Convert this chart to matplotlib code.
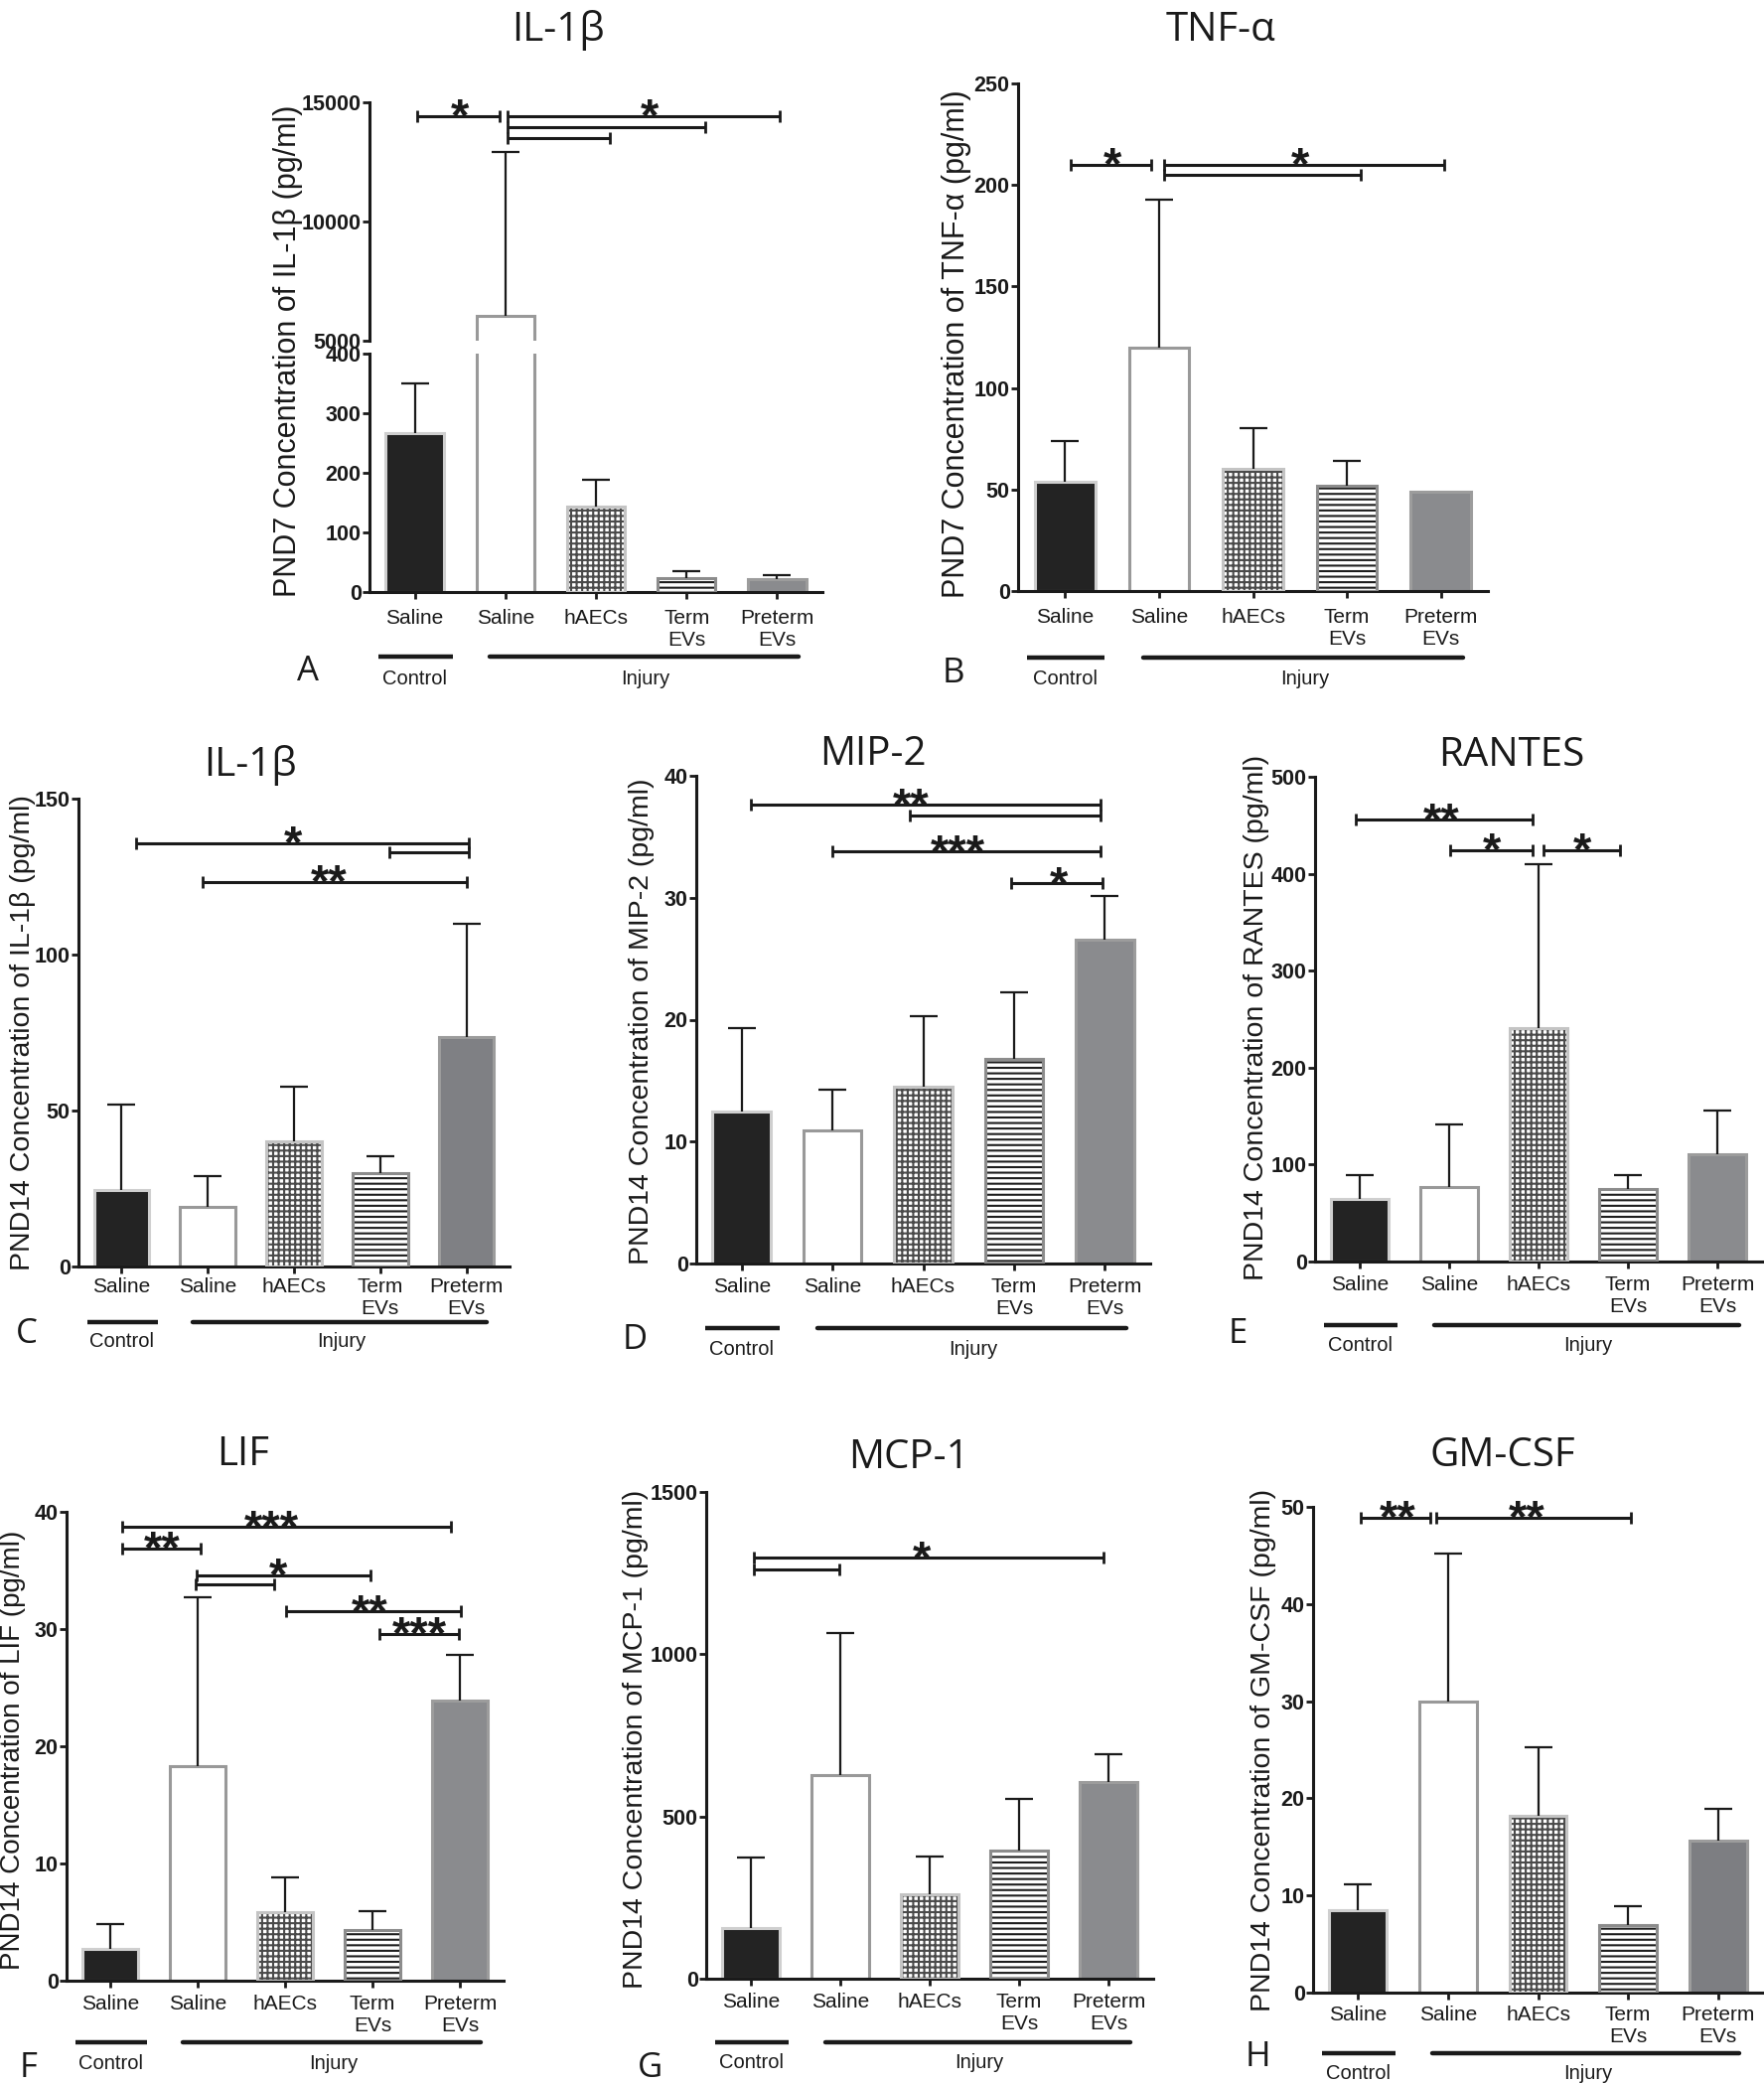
import numpy as np
import matplotlib
matplotlib.use('Agg')
import matplotlib.pyplot as plt
from matplotlib.transforms import ScaledTranslation

W, H = 1776, 2098

groups = ['Saline', 'Saline', 'hAECs', 'Term\nEVs', 'Preterm\nEVs']

# PND7 values (mean, SEM)
il1b_d7_mean = [267, 6035, 143, 24, 22]
il1b_d7_sem = [83, 6865, 45, 11, 7]
tnf_d7_mean = [54, 120, 60, 52, 49]
tnf_d7_sem = [20, 73, 20, 12, 0]

# PND14 values
il1b_d14_mean = [24.6, 19, 40, 30, 73.7]
il1b_d14_sem = [27.2, 10, 17.7, 5.5, 36.3]
mip2_mean = [12.45, 10.9, 14.5, 16.75, 26.55]
mip2_sem = [6.85, 3.35, 5.8, 5.45, 3.6]
rantes_mean = [64.4, 76.9, 241, 74.7, 111]
rantes_sem = [24.5, 64.1, 169, 14.6, 44.5]
lif_mean = [2.7, 18.3, 5.86, 4.3, 23.9]
lif_sem = [2.1, 14.4, 2.94, 1.6, 3.9]
mcp1_mean = [155, 628, 261, 394, 606]
mcp1_sem = [219, 437, 115, 159, 86]
gmcsf_mean = [8.5, 30, 18.2, 6.95, 15.6]
gmcsf_sem = [2.6, 15.2, 7.1, 1.95, 3.3]

# significance brackets: (from, to, level, stars, star x)
il1b_d7_sig = [(0.03, 0.94, 14420, '*', 0.5), (1.02, 4.03, 14420, '*', 2.59),
               (1.02, 3.21, 13950, '', 0), (1.02, 2.15, 13510, '', 0)]
tnf_d7_sig = [(0.06, 0.92, 210, '*', 0.51), (1.05, 4.03, 210, '*', 2.5),
              (1.05, 3.15, 205, '', 0)]
il1b_d14_sig = [(0.17, 4.03, 135.8, '*', 1.99), (3.11, 4.03, 132.7, '', 0),
                (0.94, 4.01, 123.3, '**', 2.41)]
mip2_sig = [(0.1, 3.95, 37.6, '**', 1.87), (1.85, 3.95, 36.75, '', 0),
            (1.0, 3.95, 33.8, '***', 2.38), (2.97, 3.97, 31.2, '*', 3.49)]
rantes_sig = [(-0.04, 1.93, 455.6, '**', 0.91), (1.01, 1.93, 424.4, '*', 1.48),
              (2.05, 2.91, 424.4, '*', 2.49)]
lif_sig = [(0.14, 3.9, 38.7, '***', 1.85), (0.14, 1.03, 36.9, '**', 0.59),
           (0.99, 2.98, 34.6, '*', 1.92), (0.98, 1.87, 33.8, '', 0),
           (2.01, 4.01, 31.5, '**', 2.97), (3.08, 3.99, 29.6, '***', 3.54)]
mcp1_sig = [(0.03, 3.94, 1297, '*', 1.91), (0.03, 0.99, 1261, '', 0)]
gmcsf_sig = [(0.03, 0.8, 48.9, '**', 0.44), (0.87, 3.03, 48.9, '**', 1.88)]

plt.rcParams['font.family'] = ['Liberation Sans', 'DejaVu Sans']
plt.rcParams['hatch.linewidth'] = 1.5
INK = '#1a1a1a'

fills = ['#232323', 'white', 'white', 'white', '#8a8b8e']
edges = ['#cfcfcf', '#999999', '#c4c4c4', '#8c8c8c', '#9c9c9c']
hatches = [None, None, '+++', '---', None]
hatch_cols = [None, None, '#4a4a4a', '#1e1e1e', None]

fig = plt.figure(figsize=(W / 100, H / 100), dpi=100)
fig.patch.set_facecolor('white')


def px_axes(l, t, r, b):
    # axes from pixel box (left, top, right, bottom)
    return fig.add_axes([l / W, 1 - b / H, (r - l) / W, (b - t) / H])


def bars(ax, mean, sem, preterm='#8a8b8e'):
    x = np.arange(len(mean))
    cols = fills[:4] + [preterm]
    for i in range(len(mean)):
        if hatches[i]:
            ax.bar(x[i], mean[i], 0.64, color='white', edgecolor=hatch_cols[i],
                   hatch=hatches[i], lw=0, zorder=2)
            ax.bar(x[i], mean[i], 0.64, color='none', edgecolor=edges[i], lw=2.2, zorder=3)
        else:
            ax.bar(x[i], mean[i], 0.64, color=cols[i], edgecolor=edges[i], lw=2.2, zorder=2)
    keep = [i for i in range(len(sem)) if sem[i] > 0]
    eb = ax.errorbar(x[keep], np.array(mean)[keep],
                     yerr=[np.zeros(len(keep)), np.array(sem)[keep]],
                     fmt='none', ecolor=INK, elinewidth=1.6, capsize=10, capthick=1.6, zorder=4)
    eb[1][0].set_visible(False)  # no cap at the bar top


def style(ax, ylo, yhi, ticks, xaxis=True, pad=5):
    ax.set_xlim(-0.5, 4.5)
    ax.set_ylim(ylo, yhi)
    ax.set_yticks(ticks)
    ax.set_yticklabels([str(t) for t in ticks], fontweight='bold')
    ax.spines[['top', 'right']].set_visible(False)
    for s in ['left', 'bottom']:
        ax.spines[s].set_linewidth(2.2)
        ax.spines[s].set_color(INK)
    ax.tick_params(axis='y', length=5, width=2, pad=1, labelsize=15.5, colors=INK)
    if xaxis:
        ax.set_xticks(range(5))
        ax.set_xticklabels(groups, linespacing=1.2)
        ax.tick_params(axis='x', length=5, width=2, pad=pad, labelsize=15, colors=INK)
    else:
        ax.spines['bottom'].set_visible(False)
        ax.set_xticks([])


def sig(ax, comps):
    for x1, x2, y, stars, sx in comps:
        ax.plot([x1, x2], [y, y], color=INK, lw=2.2, marker='|', ms=9, mew=2,
                solid_capstyle='butt', clip_on=False, zorder=5)
        if stars:
            ax.annotate(stars, (sx, y), xytext=(0, -11), textcoords='offset points',
                        ha='center', va='baseline', fontsize=34, fontweight='bold', color=INK)


def treat_groups(ax, off_line, off_text):
    # Control / Injury underline below the category labels
    tl = ax.get_xaxis_transform() + ScaledTranslation(0, -off_line / 100, fig.dpi_scale_trans)
    tt = ax.get_xaxis_transform() + ScaledTranslation(0, -(off_text + 7) / 100, fig.dpi_scale_trans)
    ax.plot([-0.4, 0.42], [0, 0], color=INK, lw=3.2, transform=tl, clip_on=False, solid_capstyle='butt')
    ax.plot([0.83, 4.24], [0, 0], color=INK, lw=3.2, transform=tl, clip_on=False, solid_capstyle='round')
    ax.text(0, 0, 'Control', transform=tt, ha='center', va='baseline', fontsize=14.5, color=INK)
    ax.text(2.55, 0, 'Injury', transform=tt, ha='center', va='baseline', fontsize=14.5, color=INK)


def labels(title, tx, ty, letter, lx, ly, ylab, yx, yy, ysize):
    fig.text(tx / W, 1 - (ty + 14) / H, title, family=['Open Sans', 'DejaVu Sans'],
             fontsize=29, ha='center', va='baseline', color=INK)
    fig.text(lx / W, 1 - (ly + 12) / H, letter, family=['Open Sans', 'DejaVu Sans'],
             fontsize=25, ha='center', va='baseline', color=INK)
    fig.text(yx / W, 1 - yy / H, ylab, rotation=90, fontsize=ysize,
             ha='center', va='center', color=INK)


# A: IL-1b PND7 with broken axis
axA_lo = px_axes(372, 356, 828, 596)
axA_hi = px_axes(372, 103, 828, 343)
bars(axA_lo, il1b_d7_mean, il1b_d7_sem)
bars(axA_hi, il1b_d7_mean, il1b_d7_sem)
style(axA_lo, 0, 400, [0, 100, 200, 300, 400], pad=7)
style(axA_hi, 5000, 15000, [5000, 10000, 15000], xaxis=False)
sig(axA_hi, il1b_d7_sig)
treat_groups(axA_lo, 65, 86)
labels('IL-1β', 562, 27, 'A', 310, 673, 'PND7 Concentration of IL-1β (pg/ml)', 290, 353, 22)

# B: TNF-a PND7
axB = px_axes(1025, 84, 1498, 595)
bars(axB, tnf_d7_mean, tnf_d7_sem)
style(axB, 0, 250, [0, 50, 100, 150, 200, 250], pad=7)
sig(axB, tnf_d7_sig)
treat_groups(axB, 67, 87)
labels('TNF-α', 1229, 27, 'B', 960, 675, 'PND7 Concentration of TNF-α (pg/ml)', 963, 346, 22)

# C: IL-1b PND14
axC = px_axes(79, 804, 513, 1275)
bars(axC, il1b_d14_mean, il1b_d14_sem, preterm='#7f8084')
style(axC, 0, 150, [0, 50, 100, 150], pad=3)
sig(axC, il1b_d14_sig)
treat_groups(axC, 56, 74)
labels('IL-1β', 252, 767, 'C', 27, 1340, 'PND14 Concentration of IL-1β (pg/ml)', 23, 1040, 20.5)

# D: MIP-2
axD = px_axes(701, 781, 1158, 1272)
bars(axD, mip2_mean, mip2_sem)
style(axD, 0, 40, [0, 10, 20, 30, 40])
sig(axD, mip2_sig)
treat_groups(axD, 65, 85)
labels('MIP-2', 879, 756, 'D', 639, 1346, 'PND14 Concentration of MIP-2 (pg/ml)', 646, 1028, 20.5)

# E: RANTES
axE = px_axes(1324, 782, 1774, 1270)
bars(axE, rantes_mean, rantes_sem)
style(axE, 0, 500, [0, 100, 200, 300, 400, 500])
sig(axE, rantes_sig)
treat_groups(axE, 64, 83)
labels('RANTES', 1522, 757, 'E', 1246, 1340, 'PND14 Concentration of RANTES (pg/ml)', 1265, 1024, 20.5)

# F: LIF
axF = px_axes(67, 1522, 507, 1994)
bars(axF, lif_mean, lif_sem)
style(axF, 0, 40, [0, 10, 20, 30, 40])
sig(axF, lif_sig)
treat_groups(axF, 62, 82)
labels('LIF', 245, 1461, 'F', 29, 2079, 'PND14 Concentration of LIF (pg/ml)', 13, 1762, 20)

# G: MCP-1
axG = px_axes(711, 1502, 1161, 1992)
bars(axG, mcp1_mean, mcp1_sem)
style(axG, 0, 1500, [0, 500, 1000, 1500])
sig(axG, mcp1_sig)
treat_groups(axG, 64, 83)
labels('MCP-1', 915, 1464, 'G', 654, 2079, 'PND14 Concentration of MCP-1 (pg/ml)', 640, 1751, 20.5)

# H: GM-CSF
axH = px_axes(1322, 1517, 1775, 2006)
bars(axH, gmcsf_mean, gmcsf_sem, preterm='#7d7e82')
style(axH, 0, 50, [0, 10, 20, 30, 40, 50], pad=4)
sig(axH, gmcsf_sig)
treat_groups(axH, 61, 80)
labels('GM-CSF', 1513, 1462, 'H', 1266, 2068, 'PND14 Concentration of GM-CSF (pg/ml)', 1272, 1762, 20.5)

fig.savefig('out.png', dpi=100)
